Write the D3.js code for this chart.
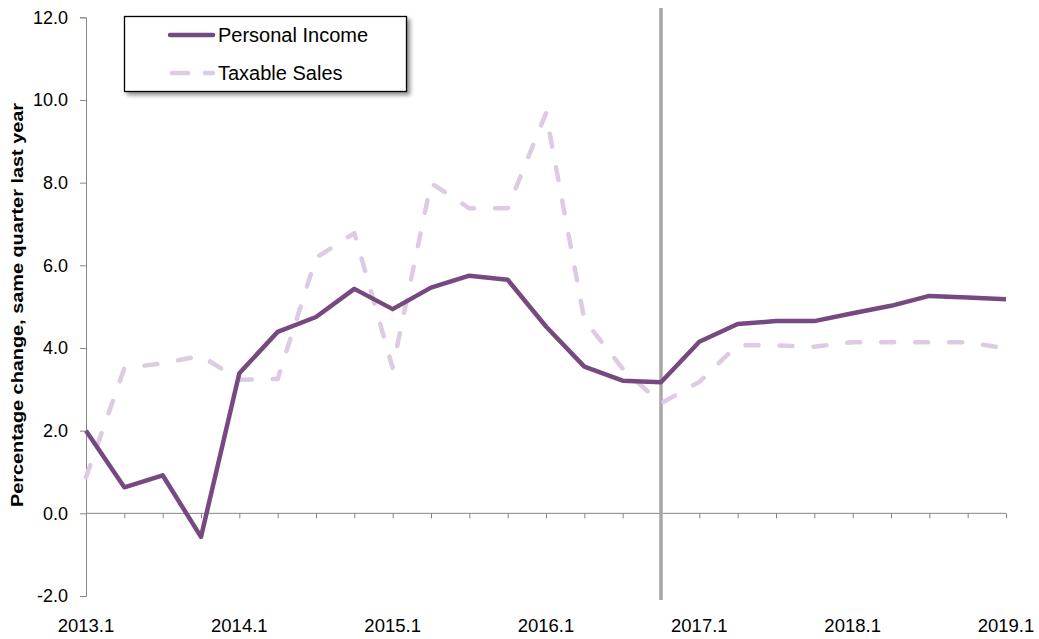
<!DOCTYPE html>
<html>
<head>
<meta charset="utf-8">
<script src="https://cdn.jsdelivr.net/npm/d3@7"></script>
<style>
  body { margin: 0; background: #fff; }
  text { font-family: Arial, "Liberation Sans", sans-serif; }
</style>
</head>
<body>
<div id="chart"></div>
<script>
// quarters 2013.1 .. 2019.1
const QUARTERS = ["2013.1","2013.2","2013.3","2013.4","2014.1","2014.2","2014.3","2014.4",
  "2015.1","2015.2","2015.3","2015.4","2016.1","2016.2","2016.3","2016.4",
  "2017.1","2017.2","2017.3","2017.4","2018.1","2018.2","2018.3","2018.4","2019.1"];

const PERSONAL_INCOME = [2.0, 0.63, 0.92, -0.57, 3.39, 4.39, 4.75, 5.43,
  4.94, 5.46, 5.75, 5.65, 4.52, 3.55, 3.21, 3.17,
  4.15, 4.58, 4.65, 4.65, 4.84, 5.02, 5.26, 5.22, 5.18];

const TAXABLE_SALES = [0.87, 3.51, 3.63, 3.81, 3.23, 3.25, 6.18, 6.78,
  3.52, 7.99, 7.38, 7.38, 9.68, 4.68, 3.5, 2.66,
  3.18, 4.07, 4.06, 4.03, 4.14, 4.14, 4.14, 4.14, 3.99];

const Y_TICKS = [-2, 0, 2, 4, 6, 8, 10, 12];
const X_LABELS = ["2013.1","2014.1","2015.1","2016.1","2017.1","2018.1","2019.1"];
const DIVIDER_AT = "2016.4";

const SERIES = [
  { name: "Personal Income", values: PERSONAL_INCOME, color: "#764a80", dash: null },
  { name: "Taxable Sales", values: TAXABLE_SALES, color: "#dccbe2", dash: "13,21" }
];

const WIDTH = 1039;
const HEIGHT = 639;

const svg = d3.select("#chart")
  .append("svg")
  .attr("width", WIDTH)
  .attr("height", HEIGHT)

const x = d3.scalePoint().domain(QUARTERS).range([86, 1006]);
const y = d3.scaleLinear().domain([-2, 12]).range([596, 17.3]);

const AXIS_COLOR = "#868686";

// eje y (guion normal en -2.0, como Excel)
const yAxis = svg.append("g")
  .attr("transform", "translate(86,0)")
  .call(d3.axisLeft(y).tickValues(Y_TICKS).tickSize(6).tickPadding(12).tickFormat(d => d.toFixed(1)));
yAxis.select(".domain").attr("stroke", AXIS_COLOR);
yAxis.selectAll(".tick line").attr("stroke", AXIS_COLOR);
yAxis.selectAll(".tick text")
  .attr("fill", "#000")
  .style("font-size", "18px")
  .style("font-family", "Arial, 'Liberation Sans', sans-serif");

// eje x en cero, etiquetas abajo
const xAxis = svg.append("g")
  .attr("transform", `translate(0,${y(0)})`)
  .call(d3.axisBottom(x).tickSize(5).tickFormat(""));
xAxis.select(".domain").attr("stroke", AXIS_COLOR).attr("d", `M86,0H1006`);
xAxis.selectAll(".tick line").attr("stroke", AXIS_COLOR);

svg.append("g")
  .selectAll("text")
  .data(X_LABELS)
  .join("text")
  .attr("x", d => x(d))
  .attr("y", 632)
  .attr("text-anchor", "middle")
  .style("font-size", "18.5px")
  .text(d => d);

// linea divisoria
svg.append("line")
  .attr("x1", x(DIVIDER_AT)).attr("x2", x(DIVIDER_AT))
  .attr("y1", 8).attr("y2", 600)
  .attr("stroke", "#a6a6a6")
  .attr("stroke-width", 3.5);

// series
const line = d3.line()
  .x((d, i) => x(QUARTERS[i]))
  .y(d => y(d));

svg.append("g")
  .selectAll("path")
  .data(SERIES.slice().reverse())
  .join("path")
  .attr("d", d => line(d.values))
  .attr("fill", "none")
  .attr("stroke", d => d.color)
  .attr("stroke-width", 4.5)
  .attr("stroke-linejoin", "round")
  .attr("stroke-linecap", d => d.dash ? "round" : "butt")
  .attr("stroke-dasharray", d => d.dash);

// titulo eje y
svg.append("text")
  .attr("transform", "translate(23,305) rotate(-90)")
  .attr("text-anchor", "middle")
  .style("font-size", "16px")
  .style("font-weight", "bold")
  .attr("textLength", 404)
  .attr("lengthAdjust", "spacingAndGlyphs")
  .text("Percentage change, same quarter last year");

// leyenda
const defs = svg.append("defs");
const filter = defs.append("filter").attr("id", "shadow")
  .attr("x", "-10%").attr("y", "-10%").attr("width", "130%").attr("height", "140%");
filter.append("feDropShadow")
  .attr("dx", 3).attr("dy", 3).attr("stdDeviation", 2)
  .attr("flood-color", "#000").attr("flood-opacity", 0.45);

const legend = svg.append("g");
legend.append("rect")
  .attr("x", 124.5).attr("y", 16.5)
  .attr("width", 282).attr("height", 75)
  .attr("fill", "#fff")
  .attr("stroke", "#000")
  .attr("stroke-width", 1.3)
  .attr("filter", "url(#shadow)");

const items = legend.selectAll("g.item")
  .data(SERIES)
  .join("g")
  .attr("class", "item")
  .attr("transform", (d, i) => `translate(0,${35 + i * 38})`);

items.append("line")
  .attr("x1", d => d.dash ? 172 : 170).attr("x2", 213)
  .attr("y1", 0).attr("y2", 0)
  .attr("stroke", d => d.color)
  .attr("stroke-width", 4.5)
  .attr("stroke-linecap", "round")
  .attr("stroke-dasharray", d => d.dash ? "16,17" : null);

items.append("text")
  .attr("x", 218)
  .attr("y", 7)
  .style("font-size", "20px")
  .text(d => d.name);
</script>
</body>
</html>
